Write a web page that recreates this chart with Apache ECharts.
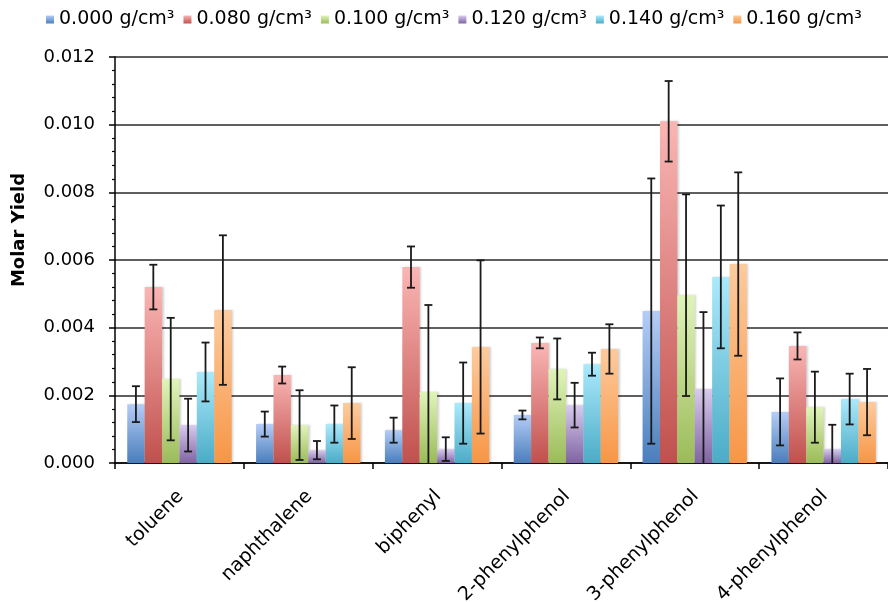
<!DOCTYPE html>
<html>
<head>
<meta charset="utf-8">
<script src="https://cdn.jsdelivr.net/npm/echarts@6/dist/echarts.min.js"></script>
<style>
  html, body { margin: 0; padding: 0; background: #ffffff; }
  #chart { width: 888px; height: 602px; }
</style>
</head>
<body>
<div id="chart"></div>
<script>
// Compounds on the category axis
const compounds = ['toluene', 'naphthalene', 'biphenyl', '2-phenylphenol', '3-phenylphenol', '4-phenylphenol'];

// Water densities (one bar series each)
const densities = ['0.000 g/cm³', '0.080 g/cm³', '0.100 g/cm³', '0.120 g/cm³', '0.140 g/cm³', '0.160 g/cm³'];

// Mean molar yields
const yield000 = [0.00174, 0.00115, 0.00097, 0.00142, 0.00449, 0.00151];
const yield080 = [0.00520, 0.00260, 0.00579, 0.00355, 0.01010, 0.00346];
const yield100 = [0.00248, 0.00112, 0.00210, 0.00278, 0.00496, 0.00165];
const yield120 = [0.00112, 0.00038, 0.00041, 0.00171, 0.00219, 0.00041];
const yield140 = [0.00269, 0.00115, 0.00177, 0.00292, 0.00550, 0.00189];
const yield160 = [0.00452, 0.00177, 0.00343, 0.00337, 0.00588, 0.00180];

// Error bar half-widths (± one standard deviation)
const err000 = [0.00053, 0.00037, 0.00037, 0.00013, 0.00392, 0.00099];
const err080 = [0.00066, 0.00025, 0.00061, 0.00016, 0.00119, 0.00040];
const err100 = [0.00181, 0.00103, 0.00257, 0.00090, 0.00298, 0.00105];
const err120 = [0.00078, 0.00027, 0.00035, 0.00066, 0.00227, 0.00072];
const err140 = [0.00087, 0.00055, 0.00120, 0.00034, 0.00211, 0.00075];
const err160 = [0.00221, 0.00106, 0.00256, 0.00073, 0.00271, 0.00098];

// Y axis ticks
const yMin = 0, yMax = 0.012, yStep = 0.002;

const yields = [yield000, yield080, yield100, yield120, yield140, yield160];
const errors = [err000, err080, err100, err120, err140, err160];

// light top -> saturated bottom, per series
const palette = [
  ['#b4cdf7', '#4a7ebb'],
  ['#fab6b4', '#c0504d'],
  ['#e0f4ba', '#9bbb59'],
  ['#d8cbee', '#8064a2'],
  ['#abe9fc', '#4bacc6'],
  ['#fdcb9e', '#f79646']
];

const FONT = 'DejaVu Sans';
const CAT_GAP = 0.19;

function gradient(pair) {
  return new echarts.graphic.LinearGradient(0, 0, 0, 1, [
    { offset: 0, color: pair[0] },
    { offset: 1, color: pair[1] }
  ]);
}

// Vertical error bar with caps, centred on the matching bar of the group
function renderErrorBar(params, api) {
  const ci = api.value(0);
  const v = api.value(1);
  const e = api.value(2);
  const s = api.value(3);
  const catW = api.size([1, 0])[0];
  const barW = catW * (1 - CAT_GAP) / yields.length;
  const base = api.coord([ci, 0]);
  const x = base[0] + (s - (yields.length - 1) / 2) * barW;
  const hiVal = v + e;
  const loVal = Math.max(v - e, 0);
  const yHi = api.coord([ci, hiVal])[1];
  const yLo = api.coord([ci, loVal])[1];
  const style = { stroke: '#1a1a1a', lineWidth: 1.8 };
  const cap = 4;
  const children = [
    { type: 'line', shape: { x1: x, y1: yHi, x2: x, y2: yLo }, style },
    { type: 'line', shape: { x1: x - cap, y1: yHi, x2: x + cap, y2: yHi }, style }
  ];
  if (v - e >= 0) {
    children.push({ type: 'line', shape: { x1: x - cap, y1: yLo, x2: x + cap, y2: yLo }, style });
  }
  return { type: 'group', children };
}

const series = [];
densities.forEach((name, s) => {
  series.push({
    name,
    type: 'bar',
    data: yields[s],
    barGap: '0%',
    barCategoryGap: (CAT_GAP * 100) + '%',
    itemStyle: {
      color: gradient(palette[s]),
      shadowColor: 'rgba(0,0,0,0.18)',
      shadowBlur: 2,
      shadowOffsetX: 1.5,
      shadowOffsetY: 0
    },
    z: 2
  });
});
densities.forEach((name, s) => {
  series.push({
    name: name + ' error',
    type: 'custom',
    renderItem: renderErrorBar,
    encode: { x: 0, y: 1 },
    data: compounds.map((c, i) => [i, yields[s][i], errors[s][i], s]),
    z: 5,
    silent: true
  });
});

const chart = echarts.init(document.getElementById('chart'), null, { renderer: 'canvas' });
chart.setOption({
  animation: false,
  backgroundColor: '#ffffff',
  textStyle: { fontFamily: FONT },
  legend: {
    data: densities.map((name, s) => ({ name, itemStyle: { color: gradient(palette[s]) } })),
    left: 46,
    top: 10,
    padding: 0,
    itemWidth: 8,
    itemHeight: 8,
    itemGap: 9,
    icon: 'rect',
    textStyle: { fontFamily: FONT, fontSize: 19, color: '#000' }
  },
  grid: {
    left: 115, right: 0, top: 57, bottom: 139,
    containLabel: false,
    outerBoundsMode: 'none'
  },
  xAxis: {
    type: 'category',
    data: compounds,
    axisLine: { lineStyle: { color: '#000', width: 1.5 } },
    axisTick: { show: true, length: 6, lineStyle: { color: '#000', width: 1.5 } },
    axisLabel: {
      interval: 0,
      rotate: 45,
      margin: 18,
      align: 'right',
      verticalAlign: 'top',
      padding: [0, 8, 0, 0],
      fontFamily: FONT,
      fontSize: 19,
      color: '#000'
    }
  },
  yAxis: {
    type: 'value',
    min: yMin,
    max: yMax,
    interval: yStep,
    axisLine: { show: true, lineStyle: { color: '#000', width: 1.5 } },
    axisTick: { show: true, length: 6, lineStyle: { color: '#000', width: 1.5 } },
    minorTick: { show: true, splitNumber: 5, length: 3, lineStyle: { color: '#000', width: 1.2 } },
    axisLabel: {
      margin: 20,
      fontFamily: FONT,
      fontSize: 18,
      color: '#000',
      formatter: v => v.toFixed(3)
    },
    splitLine: { show: true, lineStyle: { color: '#2a2a2a', width: 1.5 } }
  },
  graphic: [{
    type: 'text',
    x: 19,
    y: 230,
    rotation: Math.PI / 2,
    style: {
      text: 'Molar Yield',
      fontFamily: FONT,
      fontSize: 18,
      fontWeight: 'bold',
      fill: '#000',
      textAlign: 'center',
      textVerticalAlign: 'middle'
    }
  }],
  series
});
</script>
</body>
</html>
